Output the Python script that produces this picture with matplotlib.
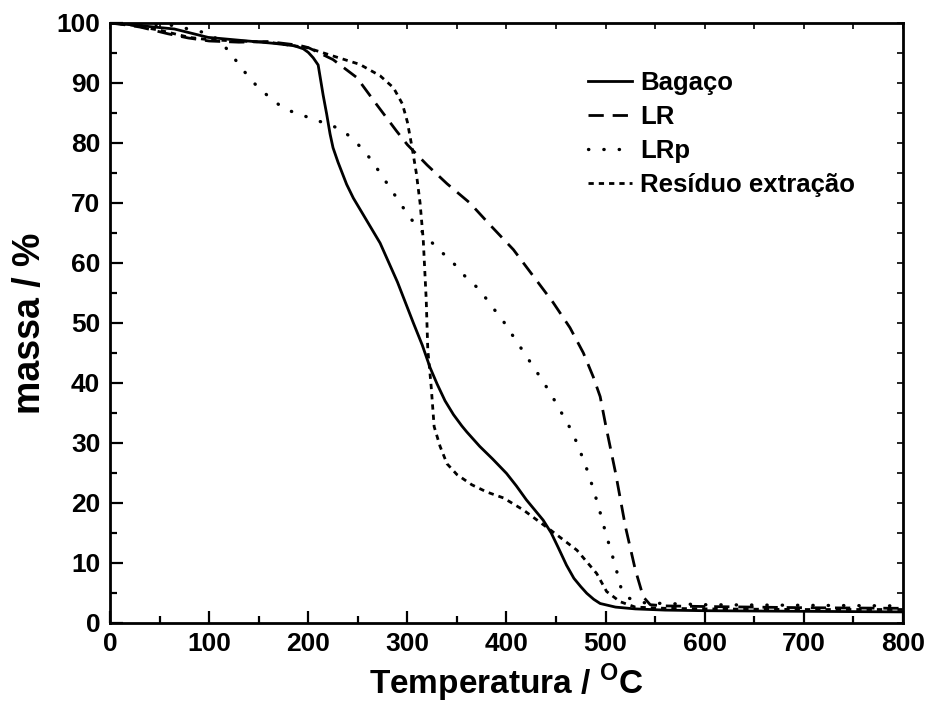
import matplotlib
matplotlib.use("Agg")
import matplotlib.pyplot as plt
from matplotlib.ticker import MultipleLocator

plt.rcParams['font.family'] = ['Liberation Sans', 'DejaVu Sans']
plt.rcParams['font.weight'] = 'bold'
plt.rcParams['mathtext.fontset'] = 'custom'
plt.rcParams['mathtext.bf'] = 'Liberation Sans:bold'
plt.rcParams['mathtext.rm'] = 'Liberation Sans:bold'

# ---- data ----
bag_T = [0, 15, 40, 65, 99, 132, 166, 186, 195, 200, 205, 210, 212, 215, 218.6, 222, 225,
         230, 238.7, 245.5, 255.6, 272.5, 290, 306, 315, 323, 330, 338, 346.5, 355, 360,
         373, 386, 400, 410, 420, 428, 437, 445, 452, 460.5, 468, 475, 481, 488, 494.5,
         510, 530, 560, 600, 700, 800]
bag_m = [100, 99.8, 99.4, 99.0, 97.6, 97.1, 96.6, 96.2, 95.7, 95.1, 94.2, 93.0, 91.0, 88.0,
         84.8, 81.5, 79.2, 76.8, 73.1, 70.8, 68.0, 63.3, 56.8, 50.0, 46.3, 42.5, 39.8, 37.0,
         34.7, 32.8, 31.8, 29.4, 27.3, 24.9, 22.8, 20.5, 18.9, 17.1, 15.0, 12.6, 9.6, 7.4,
         6.0, 4.9, 3.9, 3.2, 2.6, 2.3, 2.1, 2.0, 1.9, 1.8]

lr_T = [0, 20, 31, 58.5, 79, 100, 130, 160, 190, 200, 225, 249, 269, 289, 300, 320, 340,
        363, 383, 407, 427, 447, 464, 477.5, 487.5, 494.5, 500, 510, 520, 530, 538, 545,
        560, 600, 700, 800]
lr_m = [100, 99.6, 99.3, 98.2, 97.5, 97.0, 96.8, 96.9, 96.3, 95.9, 93.9, 90.9, 86.4, 82.0,
        79.7, 76.3, 73.2, 70.0, 66.4, 62.2, 57.8, 53.4, 49.2, 45.0, 41.0, 37.7, 33.0, 25.0,
        16.0, 8.8, 4.3, 3.0, 2.8, 2.7, 2.5, 2.4]

lrp_T = [0, 38, 65, 79, 95.5, 110, 122.3, 134, 148, 163, 176.6, 191.7, 206.9, 220, 235.5,
         249, 262, 272.5, 282.5, 292.6, 302.7, 316, 329.7, 344.7, 358, 373, 385, 396.7, 407,
         417, 427, 437, 447, 455.5, 464, 471, 477.5, 482.6, 487.7, 492.8, 500, 509.6, 516,
         522, 528, 540, 600, 700, 800]
lrp_m = [100, 99.8, 99.6, 99.0, 98.4, 97.2, 94.8, 92.2, 89.5, 87.3, 85.6, 84.8, 83.8, 83.2,
         82.0, 80.0, 77.5, 75.0, 72.5, 70.0, 67.5, 65.0, 62.5, 60.3, 57.8, 55.5, 52.8, 50.3,
         47.7, 45.2, 42.7, 40.2, 37.5, 35.0, 32.5, 30.0, 27.2, 24.9, 22.2, 19.4, 15.0, 9.6,
         5.5, 4.2, 3.8, 3.3, 3.0, 2.9, 2.8]

res_T = [0, 20, 50, 80, 100, 130, 160, 198.5, 225, 252, 272.5, 286, 295, 300, 305, 309,
         312.8, 316, 319, 320.6, 322.8, 324, 327, 333, 340, 350, 365, 380, 397, 417, 444,
         471, 491, 501, 514.6, 530, 560, 600, 700, 800]
res_m = [100, 99.7, 98.8, 97.6, 97.2, 97.0, 96.8, 95.9, 94.5, 93.1, 91.2, 89.2, 86.5, 83.5,
         79.0, 75.0, 70.0, 63.9, 53.9, 45.5, 41.6, 39.4, 32.7, 29.4, 26.5, 24.7, 23.0, 21.8,
         20.8, 18.8, 15.5, 12.1, 8.2, 5.2, 3.5, 2.6, 2.4, 2.3, 2.2, 2.2]

labels = ['Bagaço', 'LR', 'LRp', 'Resíduo extração']
x_ticks = [0, 100, 200, 300, 400, 500, 600, 700, 800]
y_ticks = [0, 10, 20, 30, 40, 50, 60, 70, 80, 90, 100]

fig = plt.figure(figsize=(9.28, 7.19), dpi=100)
ax = fig.add_axes([110/928, 1-622.7/719, 793/928, 599.7/719])

lw = 2.0
ax.plot(bag_T, bag_m, color='black', lw=lw, linestyle='-', label=labels[0])
ax.plot(lr_T, lr_m, color='black', lw=lw, linestyle=(0, (5.5, 3.2)), label=labels[1])
ax.plot(lrp_T, lrp_m, color='black', lw=2.4, linestyle=(0, (0.1, 4.5)),
        dash_capstyle='round', label=labels[2])
ax.plot(res_T, res_m, color='black', lw=lw, linestyle=(0, (1.9, 1.8)), label=labels[3])

ax.set_xlim(0, 800)
ax.set_ylim(0, 100)
ax.set_xticks(x_ticks)
ax.set_yticks(y_ticks)
ax.xaxis.set_minor_locator(MultipleLocator(50))
ax.yaxis.set_minor_locator(MultipleLocator(5))
ax.tick_params(which='major', direction='in', length=9, width=1.6, labelsize=19, pad=7)
ax.tick_params(which='minor', direction='in', length=5, width=1.6)
for lab in ax.get_xticklabels() + ax.get_yticklabels():
    lab.set_fontweight('bold')
for s in ax.spines.values():
    s.set_linewidth(2.0)

secx = ax.secondary_xaxis('top')
secx.set_xticks(x_ticks)
secx.xaxis.set_minor_locator(MultipleLocator(50))
secx.tick_params(which='both', direction='in', length=4, width=1.2, labeltop=False)
secy = ax.secondary_yaxis('right')
secy.set_yticks(y_ticks)
secy.yaxis.set_minor_locator(MultipleLocator(5))
secy.tick_params(which='both', direction='in', length=4, width=1.2, labelright=False)

ax.set_xlabel('Temperatura / $^{\\mathbf{O}}$C', fontsize=24, fontweight='bold', labelpad=4)
ax.set_ylabel('massa / %', fontsize=27, fontweight='bold', labelpad=6)

leg = ax.legend(loc='upper left', bbox_to_anchor=(0.573, 0.958), frameon=False,
                handlelength=1.75, handletextpad=0.3, labelspacing=0.38,
                prop={'weight': 'bold', 'size': 18.5})

fig.savefig('out.png', dpi=100)
